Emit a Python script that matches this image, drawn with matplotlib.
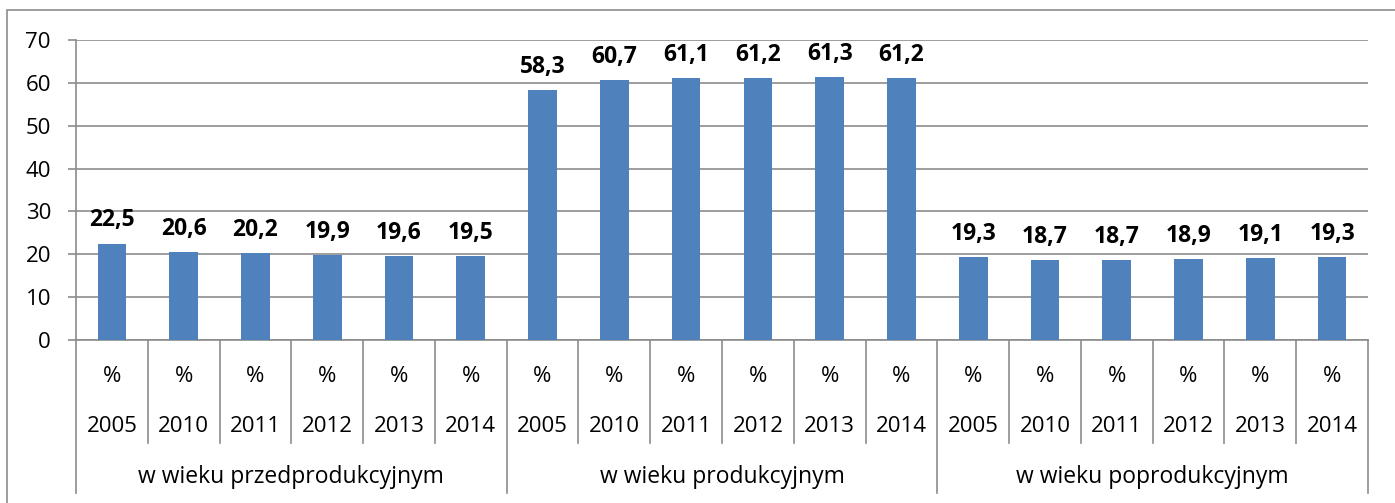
import numpy as np
import matplotlib.pyplot as plt
import matplotlib.transforms as mtransforms
from matplotlib.patches import Rectangle

plt.rcParams['font.family'] = ['Open Sans', 'DejaVu Sans']

# data
groups = ["w wieku przedprodukcyjnym", "w wieku produkcyjnym", "w wieku poprodukcyjnym"]
years = ["2005", "2010", "2011", "2012", "2013", "2014"]
przed = [22.5, 20.6, 20.2, 19.9, 19.6, 19.5]
prod = [58.3, 60.7, 61.1, 61.2, 61.3, 61.2]
popr = [19.3, 18.7, 18.7, 18.9, 19.1, 19.3]
unit = "%"

values = przed + prod + popr
n = len(values)
x = np.arange(n)

W, H = 1395, 503
fig = plt.figure(figsize=(W / 100, H / 100), dpi=100)

def fy(py):
    return 1 - py / H

left, right, top, bottom = 76, 1368, 40, 340
ax = fig.add_axes([left / W, fy(bottom), (right - left) / W, (bottom - top) / H])

grid_c = "#8c8c8c"
fs = 16
ax.bar(x, values, width=0.4, color="#4f81bd", zorder=3)
ax.set_xlim(-0.5, n - 0.5)
ax.set_ylim(0, 70)
ax.set_yticks(range(0, 71, 10))
ax.yaxis.grid(True, color=grid_c, lw=1.2)
ax.set_axisbelow(True)
for s in ["top", "right"]:
    ax.spines[s].set_visible(False)
for s in ["left", "bottom"]:
    ax.spines[s].set_color(grid_c)
    ax.spines[s].set_linewidth(1.2)
ax.tick_params(axis="y", length=6, width=1.2, color=grid_c, labelsize=fs, pad=12)
ax.tick_params(axis="x", length=0, labelbottom=False)

for xi, v in zip(x, values):
    ax.annotate(f"{v:.1f}".replace(".", ","), (xi, v), xytext=(0, 8),
                textcoords="offset points", ha="center", va="bottom",
                fontsize=16.5, fontweight="bold")

# multi-level category axis
tr = mtransforms.blended_transform_factory(ax.transData, fig.transFigure)
for i in range(n + 1):
    yb = 493 if i % len(years) == 0 else 443
    ax.plot([i - 0.5, i - 0.5], [fy(bottom), fy(yb)], transform=tr,
            color=grid_c, lw=1.2, clip_on=False)

for i in range(n):
    ax.text(i, fy(376), unit, transform=tr, ha="center", va="center", fontsize=fs)
    ax.text(i, fy(427), years[i % len(years)], transform=tr, ha="center",
            va="center", fontsize=fs)

for g, name in enumerate(groups):
    xc = g * len(years) + (len(years) - 1) / 2
    ax.text(xc, fy(477), name, transform=tr, ha="center", va="center", fontsize=16.5)

# outer chart frame
fig.add_artist(Rectangle((7 / W, -0.1), 2, fy(10) + 0.1, transform=fig.transFigure,
                         fill=False, edgecolor="#8c8c8c", lw=1.2))

fig.savefig("out.png", dpi=100)
